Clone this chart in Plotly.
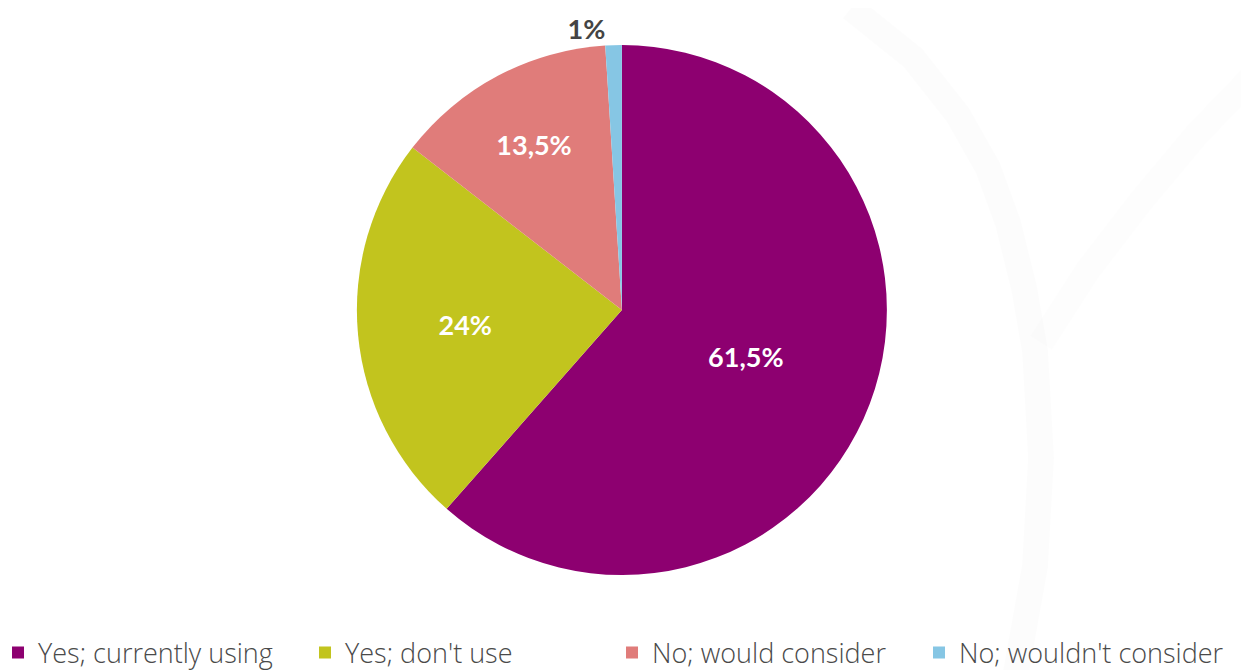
import plotly.graph_objects as go

labels = ["Yes; currently using", "Yes; don't use", "No; would consider", "No; wouldn't consider"]
values = [61.5, 24, 13.5, 1]
text_labels = ["61,5%", "24%", "13,5%", "1%"]
colors = ["#8d0070", "#c2c41e", "#e07c7a", "#86c6e4"]
text_positions = ["inside", "inside", "inside", "outside"]

W, H = 1249, 670
MB = 70
PH = H - MB  # plot area height


def px_path(points):
    pts = [(x / W, (PH - y) / PH) for x, y in points]
    return "M " + " L ".join(f"{x:.4f} {y:.4f}" for x, y in pts)


fig = go.Figure()
fig.add_trace(go.Pie(
    labels=labels,
    values=values,
    text=text_labels,
    textinfo="text",
    textposition=text_positions,
    insidetextorientation="horizontal",
    sort=False,
    direction="clockwise",
    rotation=0,
    marker=dict(colors=colors, line=dict(width=0)),
    outsidetextfont=dict(family="Lato", size=27, color="#444444", weight=700),
    insidetextfont=dict(family="Lato", size=27, color="#ffffff", weight=700),
    domain=dict(x=[0, 0.983], y=[(PH - 567) / PH, (PH - 37) / PH]),
    hoverinfo="label+percent",
))

# very faint decorative background arcs
fig.add_shape(type="path", xref="paper", yref="paper",
              path=px_path([(843, 0), (905, 50), (950, 107), (980, 160), (1000, 215),
                            (1016, 280), (1027, 343), (1033, 450), (1027, 558), (1007, 670)]),
              line=dict(color="rgba(0,0,0,0.01)", width=26), layer="below")
fig.add_shape(type="path", xref="paper", yref="paper",
              path=px_path([(1249, 64), (1190, 125), (1133, 193), (1080, 262), (1033, 335)]),
              line=dict(color="rgba(0,0,0,0.008)", width=26), layer="below")

fig.update_layout(
    width=W, height=H,
    margin=dict(l=0, r=0, t=0, b=MB, autoexpand=False),
    paper_bgcolor="white",
    plot_bgcolor="white",
    showlegend=True,
    legend=dict(
        orientation="h",
        x=-0.008, xanchor="left",
        y=(PH - 645) / PH, yanchor="middle",
        entrywidth=262, entrywidthmode="pixels",
        font=dict(family="Open Sans", size=27, color="#4a4a4a", weight=300),
        bgcolor="rgba(0,0,0,0)",
    ),
)

fig.write_html("out.html")
